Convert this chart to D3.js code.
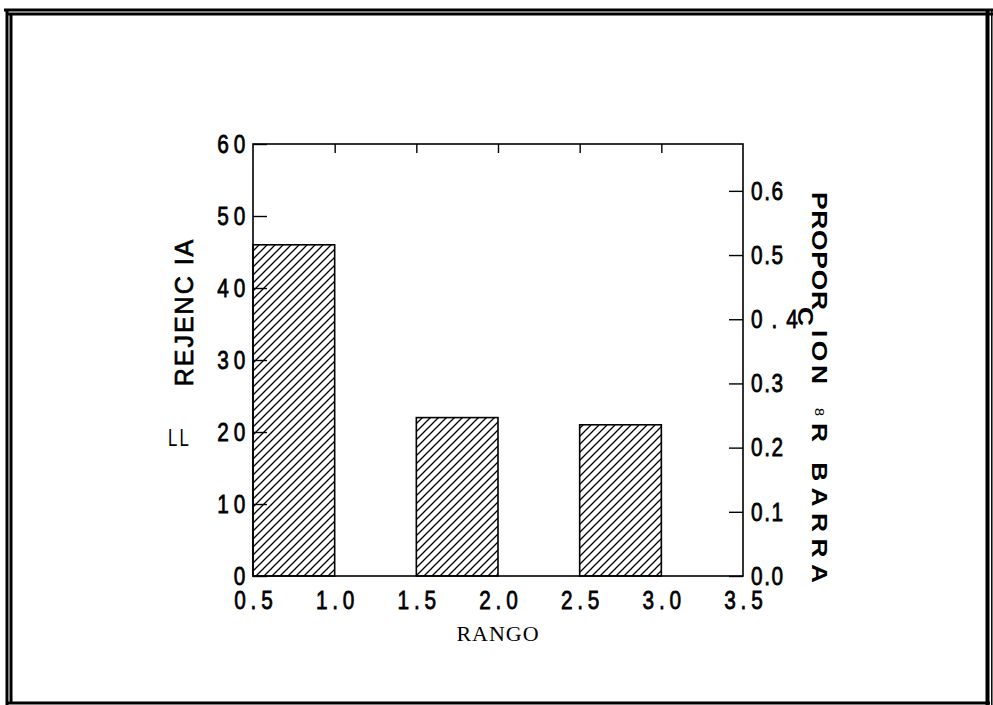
<!DOCTYPE html>
<html><head><meta charset="utf-8">
<script src="https://cdn.jsdelivr.net/npm/d3@7"></script>
<style>body{margin:0;background:#fff}svg{display:block}</style>
</head><body><svg id="c" width="993" height="705"></svg>
<script>
const binStarts = [0.5, 1.5, 2.5];
const binEnds = [1.0, 2.0, 3.0];
const rejections = [46, 22, 21];
const xTicks = [0.5, 1.0, 1.5, 2.0, 2.5, 3.0, 3.5];
const xTickLabels = ["0.5", "1.0", "1.5", "2.0", "2.5", "3.0", "3.5"];
const topTicks = [1.0, 1.5, 2.0, 2.5, 3.0];
const leftTicks = [0, 10, 20, 30, 40, 50, 60];
const rightTicks = [0, 0.1, 0.2, 0.3, 0.4, 0.5, 0.6];
const rightTickLabels = ["0.0", "0.1", "0.2", "0.3", "0 . 4", "0.5", "0.6"];

const svg = d3.select("#c");
const L = 253, R = 743, T = 144, B = 576;
const x = d3.scaleLinear().domain([0.5, 3.5]).range([L, R]);
const yL = d3.scaleLinear().domain([0, 60]).range([B, T]);
const yR = d3.scaleLinear().domain([0, 0.673]).range([B, T]);

const sans = '"Liberation Sans",Arial,sans-serif';

// frame
const frame = svg.append("g").attr("stroke", "#000").attr("fill", "none");
[[4, 10, 993, 10, 3], [6, 14, 993, 14, 3], [7, 9, 7, 705, 3], [11, 14, 11, 703, 3],
 [6, 703, 990, 703, 3], [987.5, 9, 987.5, 705, 4], [991.8, 9, 991.8, 705, 1.5]]
  .forEach(d => frame.append("line").attr("x1", d[0]).attr("y1", d[1]).attr("x2", d[2]).attr("y2", d[3]).attr("stroke-width", d[4]));

// hatch pattern
const defs = svg.append("defs");
const pat = defs.append("pattern").attr("id", "hatch").attr("patternUnits", "userSpaceOnUse")
  .attr("width", 8).attr("height", 8);
pat.append("path").attr("d", "M-2,2 L2,-2 M0,8 L8,0 M6,10 L10,6")
  .attr("stroke", "#000").attr("stroke-width", 1.3);

// bars
svg.append("g").selectAll("rect").data(rejections).join("rect")
  .attr("x", (d, i) => x(binStarts[i]))
  .attr("width", (d, i) => x(binEnds[i]) - x(binStarts[i]))
  .attr("y", d => yL(d))
  .attr("height", d => yL(0) - yL(d))
  .attr("fill", "url(#hatch)").attr("stroke", "#000").attr("stroke-width", 1.6);

// plot frame
svg.append("rect").attr("x", L).attr("y", T).attr("width", R - L).attr("height", B - T)
  .attr("fill", "none").attr("stroke", "#000").attr("stroke-width", 1.6);

function condense(sel, sx) {
  sel.each(function () {
    const t = d3.select(this);
    const xx = +t.attr("x") || 0;
    t.attr("transform", `scale(${sx},1)`).attr("x", xx / sx);
  });
}

function styleAxis(g) {
  g.select(".domain").remove();
  g.selectAll(".tick line").attr("stroke", "#000").attr("stroke-width", 1.4);
  g.selectAll(".tick text").attr("fill", "#000").attr("font-family", sans)
    .attr("font-size", 26).attr("stroke", "#000").attr("stroke-width", 0.8);
}

// left axis
const gl = svg.append("g").attr("transform", `translate(${L},0)`)
  .call(d3.axisLeft(yL).tickValues(leftTicks).tickSize(-14).tickPadding(3).tickFormat(d3.format("d")));
styleAxis(gl);
gl.selectAll(".tick text").attr("letter-spacing", "6px");
condense(gl.selectAll(".tick text"), 0.8);

// right axis
const gr = svg.append("g").attr("transform", `translate(${R},0)`)
  .call(d3.axisRight(yR).tickValues(rightTicks).tickSize(-14).tickPadding(8)
    .tickFormat((d, i) => rightTickLabels[i]));
styleAxis(gr);
gr.selectAll(".tick text").attr("letter-spacing", "2px");
condense(gr.selectAll(".tick text"), 0.8);

// top ticks
const gt = svg.append("g").attr("transform", `translate(0,${T})`)
  .call(d3.axisTop(x).tickValues(topTicks).tickSize(-9).tickFormat(""));
styleAxis(gt);

// bottom labels
const gb = svg.append("g").attr("transform", `translate(0,${B})`)
  .call(d3.axisBottom(x).tickValues(xTicks).tickSize(0).tickPadding(15)
    .tickFormat((d, i) => xTickLabels[i]));
styleAxis(gb);
gb.selectAll(".tick text").attr("letter-spacing", "6px").attr("dx", "3px");
condense(gb.selectAll(".tick text"), 0.8);

// x title
svg.append("text").attr("x", x(2.0)).attr("y", 641).attr("text-anchor", "middle")
  .attr("font-family", '"Liberation Serif","DejaVu Serif",serif').attr("font-size", 22)
  .attr("letter-spacing", "1px").text("RANGO");

// left title
svg.append("text").attr("transform", "translate(193,312) rotate(-90)")
  .attr("text-anchor", "middle").attr("font-family", sans)
  .attr("font-size", 25).attr("letter-spacing", "2px").attr("stroke", "#000").attr("stroke-width", 0.7)
  .text("REJENC IA");

svg.append("text").attr("transform", "scale(0.7,1)").attr("x", 168 / 0.7).attr("y", 446)
  .attr("font-family", sans).attr("font-size", 24).attr("letter-spacing", "3px").text("LL");

// right title (stretched along the text direction)
const s = 1.2;
const rt = svg.append("text").attr("transform", `translate(812,0) rotate(90) scale(${s},1)`)
  .attr("font-family", sans).attr("font-size", 22).attr("font-weight", "bold");
rt.append("tspan").attr("x", 192 / s).attr("y", 0).attr("textLength", 118 / s).attr("lengthAdjust", "spacing").text("PROPOR");
rt.append("tspan").attr("x", 307 / s).attr("y", 14).text("C");
rt.append("tspan").attr("x", 330 / s).attr("y", 0).attr("textLength", 54 / s).attr("lengthAdjust", "spacing").text("ION");
rt.append("tspan").attr("x", 408 / s).attr("y", -3).attr("font-size", 12).attr("font-weight", "normal").text("8");
rt.append("tspan").attr("x", 423 / s).attr("y", 0).attr("textLength", 160 / s).attr("lengthAdjust", "spacing").text("R BARRA");
</script></body></html>
